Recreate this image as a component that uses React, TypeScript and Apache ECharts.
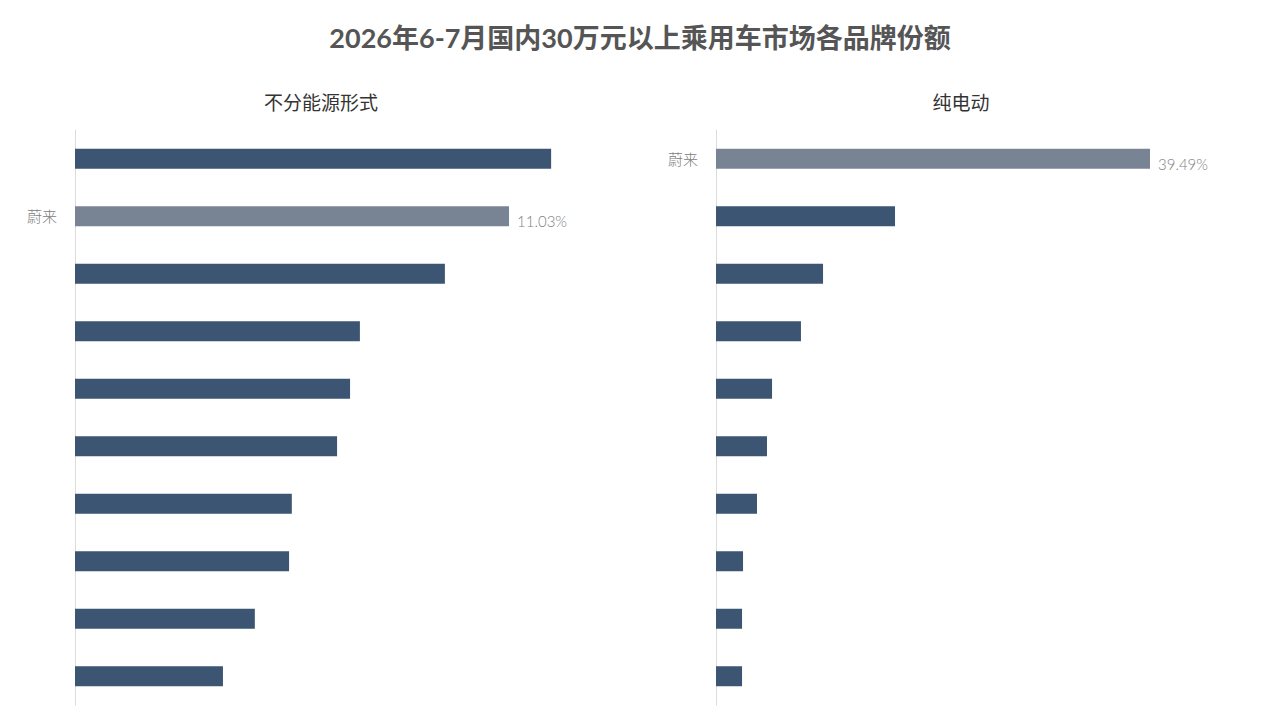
import React, { useEffect, useRef } from "react";
import * as echarts from "echarts";

const TITLE = "2026年6-7月国内30万元以上乘用车市场各品牌份额";
const LEFT_TITLE = "不分能源形式";
const RIGHT_TITLE = "纯电动";
const HIGHLIGHT = "蔚来";

const leftCategories = ["品牌1", "蔚来", "品牌3", "品牌4", "品牌5", "品牌6", "品牌7", "品牌8", "品牌9", "品牌10"];
const leftValues = [12.1, 11.03, 9.4, 7.24, 6.99, 6.66, 5.51, 5.44, 4.57, 3.76];

const rightCategories = ["蔚来", "品牌B", "品牌C", "品牌D", "品牌E", "品牌F", "品牌G", "品牌H", "品牌I", "品牌J"];
const rightValues = [39.49, 16.29, 9.74, 7.73, 5.1, 4.64, 3.73, 2.46, 2.37, 2.37];

const DARK = "#3c5572";
const GREY = "#788494";
const FONT = "Lato, 'Noto Sans CJK SC', sans-serif";

function buildSeries(cats: string[], vals: number[], idx: number) {
  return {
    type: "bar",
    xAxisIndex: idx,
    yAxisIndex: idx,
    barWidth: 20,
    data: vals.map((v, i) => ({
      value: v,
      itemStyle: { color: cats[i] === HIGHLIGHT ? GREY : DARK },
      label: {
        show: cats[i] === HIGHLIGHT,
        position: "right",
        distance: 8,
        offset: [0, 5],
        formatter: (p: any) => p.value.toFixed(2) + "%",
        color: "#808080",
        fontSize: 15,
        fontWeight: 300,
        fontFamily: FONT,
      },
    })),
  };
}

export default function App() {
  const ref = useRef<HTMLDivElement>(null);
  useEffect(() => {
    document.body.style.margin = "0";
    const chart = echarts.init(ref.current!, null, { renderer: "svg" });
    const yAxisCommon = (cats: string[], idx: number) => ({
      type: "category",
      gridIndex: idx,
      data: cats,
      inverse: true,
      axisLine: { show: true, lineStyle: { color: "#dcdcdc", width: 1 } },
      axisTick: { show: false },
      axisLabel: {
        margin: 18,
        color: "#808080",
        fontSize: 15,
        fontWeight: 300,
        fontFamily: FONT,
        offset: [0, 2],
        formatter: (v: string) => (v === HIGHLIGHT ? v : ""),
      },
    });
    const xAxisCommon = (idx: number, max: number) => ({
      type: "value",
      gridIndex: idx,
      min: 0,
      max,
      show: false,
      splitLine: { show: false },
    });
    chart.setOption({
      animation: false,
      backgroundColor: "#ffffff",
      title: [
        {
          text: TITLE,
          left: "center",
          top: 19,
          textStyle: { fontSize: 27, fontWeight: "bold", color: "#555", fontFamily: FONT },
        },
        {
          text: LEFT_TITLE,
          left: 316,
          textAlign: "center",
          top: 88,
          textStyle: { fontSize: 19, fontWeight: "normal", color: "#333", fontFamily: FONT },
        },
        {
          text: RIGHT_TITLE,
          left: 956,
          textAlign: "center",
          top: 88,
          textStyle: { fontSize: 19, fontWeight: "normal", color: "#333", fontFamily: FONT },
        },
      ],
      grid: [
        { left: 75, top: 130, width: 490, height: 575 },
        { left: 716, top: 130, width: 489, height: 575 },
      ],
      xAxis: [xAxisCommon(0, 490 / 39.35), xAxisCommon(1, 489 / 10.99)],
      yAxis: [yAxisCommon(leftCategories, 0), yAxisCommon(rightCategories, 1)],
      series: [buildSeries(leftCategories, leftValues, 0), buildSeries(rightCategories, rightValues, 1)],
    });
    return () => chart.dispose();
  }, []);
  return <div ref={ref} style={{ width: 1280, height: 720 }} />;
}
